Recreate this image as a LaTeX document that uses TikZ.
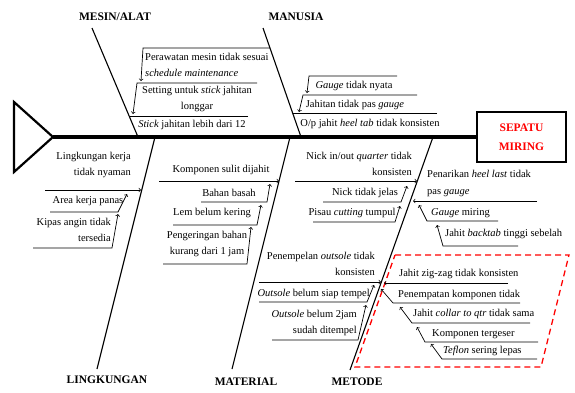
\documentclass[tikz,border=0pt]{standalone}
\usepackage{fontspec}
\setmainfont{Liberation Serif}

\begin{document}
\begin{tikzpicture}[x=1pt, y=-1pt,
    spine/.style={line width=3.2pt},
    bone/.style={line width=1.1pt},
    cause/.style={->, line width=0.7pt},
    txt/.style={inner sep=0pt, font=\fontsize{10.5}{16}\selectfont},
    cat/.style={inner sep=0pt, font=\fontsize{11.5}{14}\selectfont\bfseries}]
  \useasboundingbox (0,0) rectangle (575,392);

  % head, tail and spine
  \node (H) [rectangle, draw, line width=2.2pt, minimum width=89pt, minimum height=50pt,
    align=center, text=red, font=\fontsize{11.5}{19}\selectfont\bfseries] at (521.5,137) {SEPATU\\MIRING};
  \coordinate (T) at (53,137);
  \draw[line width=2.2pt] (14,102) -- (T) -- (14,172) -- cycle;
  \draw[red, line width=1.3pt, dash pattern=on 6pt off 4pt] (395,255) -- (569,255) -- (541,367) -- (355,367) -- cycle;
  \draw[spine] (T) -- (H.west);

  % main bones
  \coordinate (MS1) at (92,28);   \coordinate (MS2) at (138,137);
  \coordinate (MN1) at (263,28);  \coordinate (MN2) at (301,137);
  \coordinate (LK1) at (97,369);  \coordinate (LK2) at (155,137);
  \coordinate (MT1) at (232,369); \coordinate (MT2) at (290,137);
  \coordinate (MD1) at (350,370); \coordinate (MD2) at (433,137);
  \draw[bone] (MS1) -- (MS2);
  \draw[bone] (MN1) -- (MN2);
  \draw[bone] (LK1) -- (LK2);
  \draw[bone] (MT1) -- (MT2);
  \draw[bone] (MD1) -- (MD2);
  \node (MS) [cat] at (115,17) {MESIN/ALAT};
  \node (MN) [cat] at (296,17) {MANUSIA};
  \node (LK) [cat] at (107,380) {LINGKUNGAN};
  \node (MT) [cat] at (246,382) {MATERIAL};
  \node (MD) [cat] at (357,382) {METODE};

  % mesin/alat
  \node (A1) [txt, align=left, anchor=west] at (145,65) {Perawatan mesin tidak sesuai\\\textit{schedule maintenance}};
  \node (A2) [txt, align=center] at (197,98.5) {Setting untuk \textit{stick} jahitan\\longgar};
  \node (A3) [txt] at (192,125) {\textit{Stick} jahitan lebih dari 12};
  \path (270,48) coordinate (a1r) (143,48) coordinate (a1l) (141,81) coordinate (a1t);
  \path (257,83) coordinate (a2r) (137,83) coordinate (a2l) (133,114) coordinate (a2t);
  \path (248,116) coordinate (a3r) (130,116) coordinate (a3l);
  \draw[cause] (a1r) -- (a1l) -- (a1t);
  \draw[cause] (a2r) -- (a2l) -- (a2t);
  \draw[line width=0.7pt] (a3r) -- (a3l);

  % manusia
  \node (B1) [txt] at (354,86) {\textit{Gauge} tidak nyata};
  \node (B2) [txt] at (355,105) {Jahitan tidak pas \textit{gauge}};
  \node (B3) [txt] at (370,124) {O/p jahit \textit{heel tab} tidak konsisten};
  \path (397,76) coordinate (b1r) (309,76) coordinate (b1l) (307,93) coordinate (b1t);
  \path (417,95) coordinate (b2r) (303,95) coordinate (b2l) (299,112) coordinate (b2t);
  \path (437,113) coordinate (b3r) (293,113) coordinate (b3l);
  \draw[cause] (b1r) -- (b1l) -- (b1t);
  \draw[cause] (b2r) -- (b2l) -- (b2t);
  \draw[line width=0.7pt] (b3r) -- (b3l);

  % lingkungan
  \node (C1) [txt, align=right, anchor=east] at (131,165) {Lingkungan kerja\\tidak nyaman};
  \node (C2) [txt] at (88,201) {Area kerja panas};
  \node (C3) [txt, align=right, anchor=east] at (111,230) {Kipas angin tidak\\tersedia};
  \path (45,190) coordinate (c1l) (141,190) coordinate (c1r);
  \path (50,212) coordinate (c2l) (118,212) coordinate (c2r) (127,194) coordinate (c2t);
  \path (33,248) coordinate (c3l) (112,248) coordinate (c3r) (118,214) coordinate (c3t);
  \draw[cause] (c1l) -- (c1r);
  \draw[cause] (c2l) -- (c2r) -- (c2t);
  \draw[cause] (c3l) -- (c3r) -- (c3t);

  % material
  \node (D1) [txt] at (221,170) {Komponen sulit dijahit};
  \node (D2) [txt] at (229,193) {Bahan basah};
  \node (D3) [txt] at (212,213) {Lem belum kering};
  \node (D4) [txt, align=center] at (207,244) {Pengeringan bahan\\kurang dari 1 jam};
  \path (159,181) coordinate (d1l) (279,181) coordinate (d1r);
  \path (201,202) coordinate (d2l) (267,202) coordinate (d2r) (270,184) coordinate (d2t);
  \path (173,225) coordinate (d3l) (257,225) coordinate (d3r) (261,205) coordinate (d3t);
  \path (163,264) coordinate (d4l) (247,264) coordinate (d4r) (251,227) coordinate (d4t);
  \draw[cause] (d1l) -- (d1r);
  \draw[cause] (d2l) -- (d2r) -- (d2t);
  \draw[cause] (d3l) -- (d3r) -- (d3t);
  \draw[cause] (d4l) -- (d4r) -- (d4t);

  % metode, left side
  \node (E1) [txt, align=right, anchor=east] at (412,163.5) {Nick in/out \textit{quarter} tidak\\konsisten};
  \node (E2) [txt] at (365,193) {Nick tidak jelas};
  \node (E3) [txt] at (352,213) {Pisau \textit{cutting} tumpul};
  \node (E4) [txt, align=right, anchor=east] at (375,263.5) {Penempelan \textit{outsole} tidak\\konsisten};
  \node (E5) [txt, anchor=east] at (370,294) {\textit{Outsole} belum siap tempel};
  \node (E6) [txt, align=right, anchor=east] at (357,323) {\textit{Outsole} belum 2jam\\sudah ditempel};
  \path (295,181) coordinate (e1l) (417,181) coordinate (e1r);
  \path (323,202) coordinate (e2l) (401,202) coordinate (e2r) (407,186) coordinate (e2t);
  \path (313,222) coordinate (e3l) (395,222) coordinate (e3r) (400,206) coordinate (e3t);
  \path (259,282) coordinate (e4l) (381,282) coordinate (e4r);
  \path (259,302) coordinate (e5l) (367,302) coordinate (e5r) (374,285) coordinate (e5t);
  \path (272,340) coordinate (e6l) (358,340) coordinate (e6r) (366,305) coordinate (e6t);
  \draw[cause] (e1l) -- (e1r);
  \draw[cause] (e2l) -- (e2r) -- (e2t);
  \draw[cause] (e3l) -- (e3r) -- (e3t);
  \draw[cause] (e4l) -- (e4r);
  \draw[cause] (e5l) -- (e5r) -- (e5t);
  \draw[cause] (e6l) -- (e6r) -- (e6t);

  % metode, right side
  \node (F1) [txt, align=left, anchor=west] at (427,183) {Penarikan \textit{heel last} tidak\\[1pt]pas \textit{gauge}};
  \node (F2) [txt, anchor=west] at (431,213) {\textit{Gauge} miring};
  \node (F3) [txt, anchor=west] at (445,234) {Jahit \textit{backtab} tinggi sebelah};
  \path (537,201) coordinate (f1r) (413,201) coordinate (f1l);
  \path (498,221) coordinate (f2r) (427,221) coordinate (f2l) (419,205) coordinate (f2t);
  \path (518,246) coordinate (f3r) (443,246) coordinate (f3l) (437,225) coordinate (f3t);
  \draw[cause] (f1r) -- (f1l);
  \draw[cause] (f2r) -- (f2l) -- (f2t);
  \draw[cause] (f3r) -- (f3l) -- (f3t);

  \node (G1) [txt, anchor=west] at (399,274) {Jahit zig-zag tidak konsisten};
  \node (G2) [txt, anchor=west] at (398,295) {Penempatan komponen tidak};
  \node (G3) [txt, anchor=west] at (413,314) {Jahit \textit{collar to qtr} tidak sama};
  \node (G4) [txt, anchor=west] at (432,334) {Komponen tergeser};
  \node (G5) [txt, anchor=west] at (443,351) {\textit{Teflon} sering lepas};
  \path (508,283) coordinate (g1r) (384,283) coordinate (g1l);
  \path (520,303) coordinate (g2r) (393,303) coordinate (g2l) (381,289) coordinate (g2t);
  \path (530,323) coordinate (g3r) (412,323) coordinate (g3l) (400,307) coordinate (g3t);
  \path (538,342) coordinate (g4r) (425,342) coordinate (g4l) (417,327) coordinate (g4t);
  \path (537,359) coordinate (g5r) (442,359) coordinate (g5l) (431,344) coordinate (g5t);
  \draw[cause] (g1r) -- (g1l);
  \draw[cause] (g2r) -- (g2l) -- (g2t);
  \draw[cause] (g3r) -- (g3l) -- (g3t);
  \draw[cause] (g4r) -- (g4l) -- (g4t);
  \draw[cause] (g5r) -- (g5l) -- (g5t);
\end{tikzpicture}
\end{document}
